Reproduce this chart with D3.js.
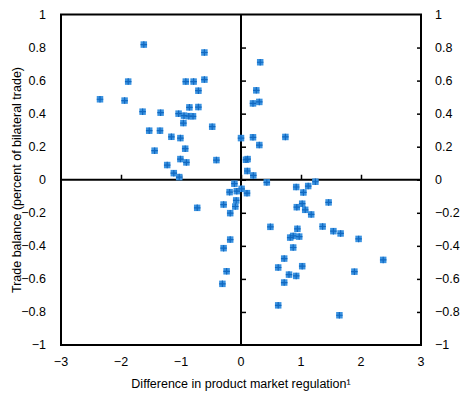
<!DOCTYPE html>
<html><head><meta charset="utf-8">
<script src="https://cdn.jsdelivr.net/npm/d3@7"></script>
<style>body{margin:0;background:#fff}svg{display:block}text{font-family:"Liberation Sans",Arial,sans-serif;fill:#000}</style>
</head><body>
<script>
const xTicks = [-3,-2,-1,0,1,2,3];
const yTicks = [-1,-0.8,-0.6,-0.4,-0.2,0,0.2,0.4,0.6,0.8,1];
const xTitle = "Difference in product market regulation\u00b9";
const yTitle = "Trade balance (percent of bilateral trade)";
const xVals = [-1.62,-0.61,-1.88,-0.92,-0.79,-0.61,-0.71,-2.35,-1.94,-1.64,-1.34,-1.04,-0.95,-0.87,-0.80,-0.86,-0.71,-0.96,-0.48,-1.53,-1.35,-1.16,-1.01,0.0,-1.44,-0.93,-1.01,-0.91,-0.41,-1.23,-1.12,-1.03,-0.11,
 0.32,0.255,0.20,0.305,0.74,0.20,0.305,0.083,0.11,0.105,0.205,0.43,1.24,
 0.01,-0.19,-0.07,0.10,-0.08,-0.29,-0.095,-0.73,-0.18,-0.18,-0.29,-0.24,-0.31,
 0.92,1.12,1.04,1.02,0.93,1.07,1.17,1.46,0.49,0.94,0.82,0.87,0.97,1.36,1.54,1.66,1.96,0.87,0.72,0.62,1.02,2.37,1.89,0.80,0.92,0.72,0.62,1.64];
const yVals = [0.818,0.77,0.594,0.594,0.594,0.606,0.539,0.487,0.479,0.412,0.406,0.40,0.388,0.385,0.384,0.438,0.44,0.343,0.321,0.297,0.297,0.26,0.252,0.252,0.176,0.188,0.125,0.105,0.119,0.089,0.04,0.016,-0.024,
 0.711,0.541,0.462,0.471,0.259,0.257,0.21,0.121,0.125,0.053,0.026,-0.016,-0.012,
 -0.055,-0.075,-0.069,-0.081,-0.125,-0.15,-0.162,-0.17,-0.202,-0.362,-0.414,-0.554,-0.63,
 -0.044,-0.038,-0.077,-0.145,-0.166,-0.182,-0.21,-0.137,-0.285,-0.297,-0.35,-0.34,-0.344,-0.283,-0.311,-0.325,-0.358,-0.41,-0.477,-0.531,-0.523,-0.485,-0.556,-0.574,-0.582,-0.622,-0.76,-0.82];

const W = 463, H = 393;
const L = 61, R = 421, T = 14.5, B = 345;
const svg = d3.select("body").append("svg").attr("width", W).attr("height", H);
const x = d3.scaleLinear().domain([-3,3]).range([L,R]);
const y = d3.scaleLinear().domain([-1,1]).range([B,T]);
const fmt = d => d3.format("")(+d.toFixed(1));

// frame
svg.append("rect").attr("x",L).attr("y",T).attr("width",R-L).attr("height",B-T)
  .attr("fill","none").attr("stroke","#000").attr("stroke-width",2);

// zero axes with ticks
const xAxis = svg.append("g").attr("transform",`translate(0,${y(0)})`)
  .call(d3.axisTop(x).tickValues(xTicks.filter(d=>d>-3&&d<3)).tickSize(5).tickSizeOuter(0).tickFormat(""));
xAxis.select(".domain").remove();
xAxis.selectAll("line").attr("stroke","#000").attr("stroke-width",1.5);
svg.append("line").attr("x1",L).attr("x2",R).attr("y1",y(0)).attr("y2",y(0)).attr("stroke","#000").attr("stroke-width",2);

const yAxis = svg.append("g").attr("transform",`translate(${x(0)},0)`)
  .call(d3.axisRight(y).tickValues(yTicks.filter(d=>d>-1&&d<1)).tickSize(5).tickSizeOuter(0).tickFormat(""));
yAxis.select(".domain").remove();
yAxis.selectAll("line").attr("stroke","#000").attr("stroke-width",1.5);
svg.append("line").attr("x1",x(0)).attr("x2",x(0)).attr("y1",T).attr("y2",B).attr("stroke","#000").attr("stroke-width",2);

const yAxisR = svg.append("g").attr("transform",`translate(${R},0)`)
  .call(d3.axisLeft(y).tickValues(yTicks.filter(d=>d>-1&&d<1)).tickSize(4).tickSizeOuter(0).tickFormat(""));
yAxisR.select(".domain").remove();
yAxisR.selectAll("line").attr("stroke","#000").attr("stroke-width",1.5);

// labels
svg.append("g").selectAll("text").data(yTicks).join("text")
  .attr("x",46).attr("y",d=>y(d)).attr("dy","0.35em").attr("text-anchor","end")
  .attr("font-size",12.5).text(fmt);
svg.append("g").selectAll("text").data(yTicks).join("text")
  .attr("x",435).attr("y",d=>y(d)).attr("dy","0.35em").attr("text-anchor","start")
  .attr("font-size",12.5).text(fmt);
svg.append("g").selectAll("text").data(xTicks).join("text")
  .attr("x",d=>x(d)).attr("y",366).attr("text-anchor","middle")
  .attr("font-size",12.5).text(fmt);
svg.append("text").attr("x",241).attr("y",388).attr("text-anchor","middle").attr("font-size",12.5).text(xTitle);
svg.append("text").attr("transform",`translate(21,${180}) rotate(-90)`).attr("text-anchor","middle").attr("font-size",12.5).text(yTitle);

// points
const pts = xVals.map((v,i)=>({x:v,y:yVals[i]}));
const g = svg.append("g");
const s = 6.5;
g.selectAll("rect.p").data(pts).join("rect").attr("class","p")
  .attr("x",d=>x(d.x)-s/2).attr("y",d=>y(d.y)-s/2).attr("width",s).attr("height",s)
  .attr("fill","#3a92e0");
g.selectAll("path.c").data(pts).join("path").attr("class","c")
  .attr("d",d=>`M${x(d.x)-s/2},${y(d.y)}H${x(d.x)+s/2}M${x(d.x)},${y(d.y)-s/2}V${y(d.y)+s/2}`)
  .attr("stroke","#1168c0").attr("stroke-width",1.2);
</script>
</body></html>
